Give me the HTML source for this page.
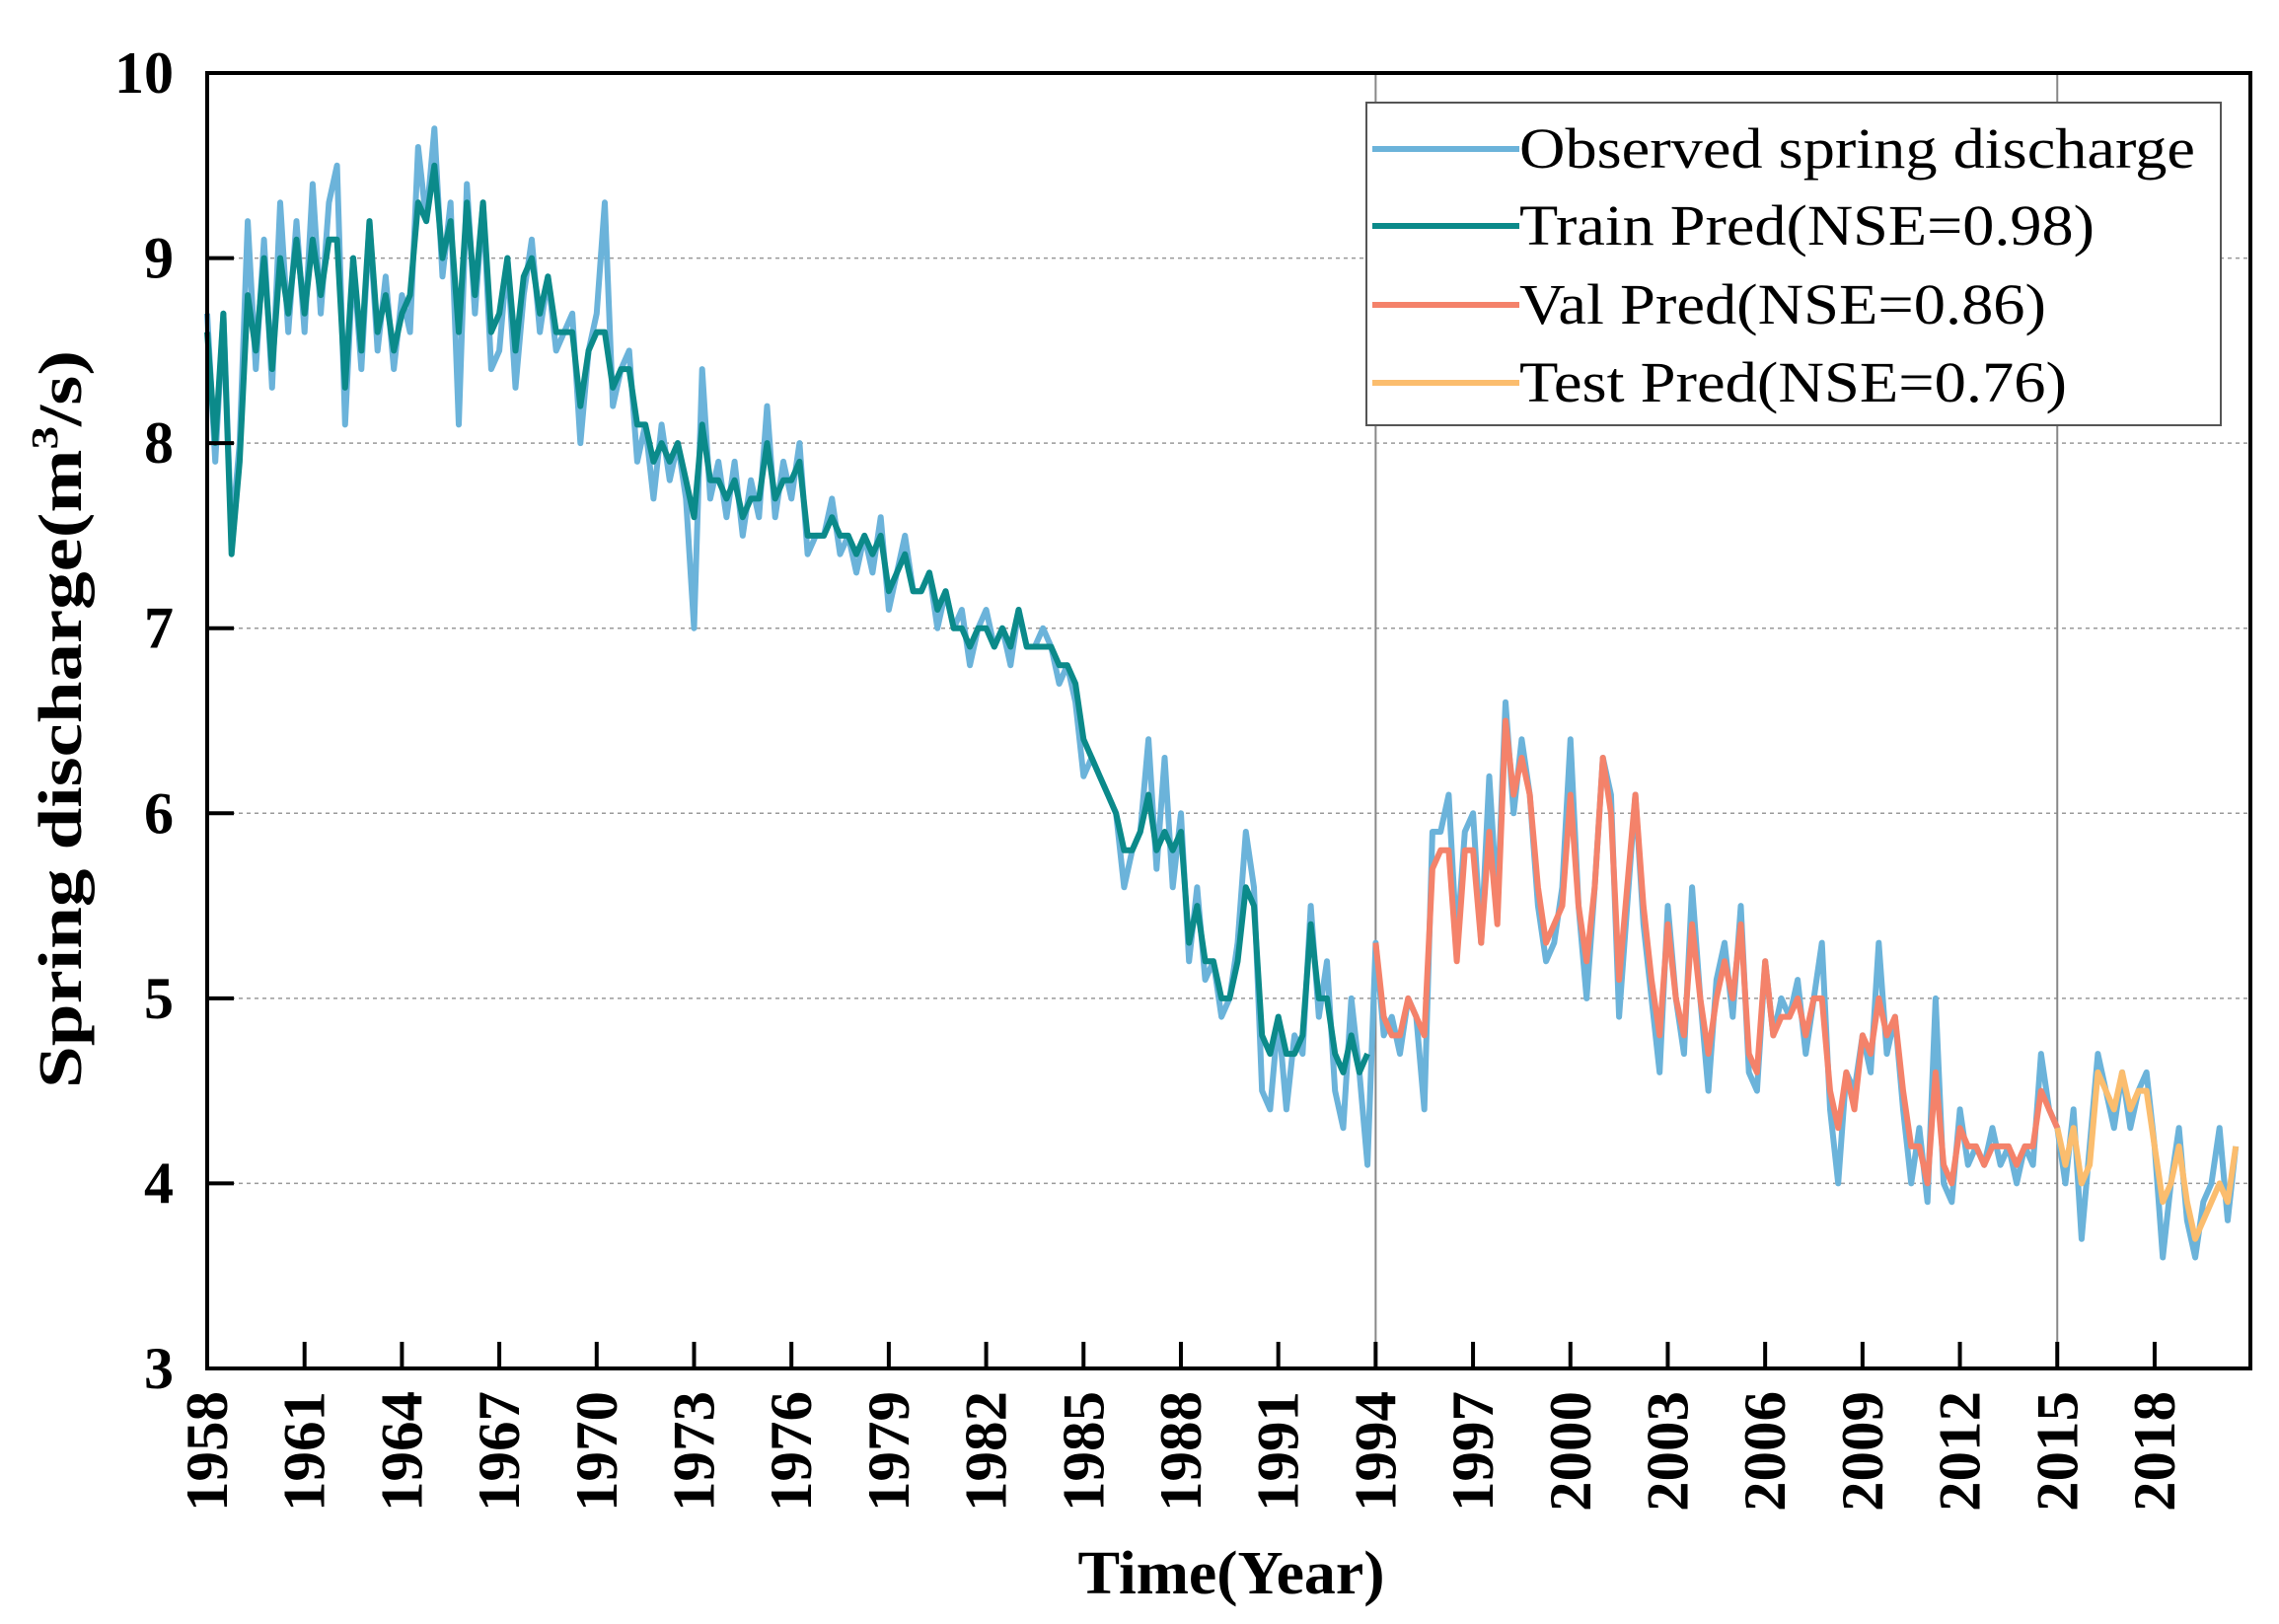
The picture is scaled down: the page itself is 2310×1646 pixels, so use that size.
<!DOCTYPE html>
<html><head><meta charset="utf-8"><style>html,body{margin:0;padding:0;background:#fff}svg{display:block}</style></head>
<body>
<svg id="chart" width="2310" height="1646" viewBox="0 0 2310 1646" xmlns="http://www.w3.org/2000/svg" font-family="'Liberation Serif', serif">
<g id="grid"></g>
<g id="vlines"></g>
<g id="series"></g>
<rect x="210" y="74" width="2071" height="1313" fill="none" stroke="#000" stroke-width="4"/>
<g id="xticks"></g>
<g id="yticks"></g>
<text transform="translate(82,729) rotate(-90)" text-anchor="middle" font-size="62" font-weight="bold" textLength="748" lengthAdjust="spacingAndGlyphs">Spring discharge(m<tspan font-size="38" dy="-24">3</tspan><tspan dy="24">/s)</tspan></text>
<text x="1248" y="1615" text-anchor="middle" font-size="62" font-weight="bold" textLength="311" lengthAdjust="spacingAndGlyphs">Time(Year)</text>
<g>
<rect x="1385" y="104" width="866" height="327" fill="#fff" stroke="#555" stroke-width="2"/>
<line x1="1391" y1="151" x2="1540" y2="151" stroke="#6bb3da" stroke-width="6"/>
<text x="1540" y="170" font-size="58" textLength="685" lengthAdjust="spacingAndGlyphs">Observed spring discharge</text>
<line x1="1391" y1="229" x2="1540" y2="229" stroke="#0b8a8a" stroke-width="6"/>
<text x="1540" y="248" font-size="58" textLength="583" lengthAdjust="spacingAndGlyphs">Train Pred(NSE=0.98)</text>
<line x1="1391" y1="309" x2="1540" y2="309" stroke="#f4826a" stroke-width="6"/>
<text x="1540" y="328" font-size="58" textLength="534" lengthAdjust="spacingAndGlyphs">Val Pred(NSE=0.86)</text>
<line x1="1391" y1="388" x2="1540" y2="388" stroke="#fbbd6e" stroke-width="6"/>
<text x="1540" y="407" font-size="58" textLength="555" lengthAdjust="spacingAndGlyphs">Test Pred(NSE=0.76)</text>
</g>
</svg>
<script>
const startYear = 1958;
const stepsPerYear = 4;
const observed = [
8.7,7.9,8.7,7.5, 8.0,9.2,8.4,9.1, 8.3,9.3,8.6,9.2, 8.6,9.4,8.7,9.3, 9.5,8.1,9.0,8.4,
9.2,8.5,8.9,8.4, 8.8,8.6,9.6,9.2, 9.7,8.9,9.3,8.1, 9.4,8.7,9.3,8.4, 8.5,9.0,8.3,8.8,
9.1,8.6,8.9,8.5, 8.6,8.7,8.0,8.5, 8.7,9.3,8.2,8.4, 8.5,7.9,8.1,7.7, 8.1,7.8,8.0,7.7,
7.0,8.4,7.7,7.9, 7.6,7.9,7.5,7.8, 7.6,8.2,7.6,7.9, 7.7,8.0,7.4,7.5, 7.5,7.7,7.4,7.5,
7.3,7.5,7.3,7.6, 7.1,7.3,7.5,7.2, 7.2,7.3,7.0,7.2, 7.0,7.1,6.8,7.0, 7.1,6.9,7.0,6.8,
7.1,6.9,6.9,7.0, 6.9,6.7,6.8,6.6, 6.2,6.3,6.2,6.1, 6.0,5.6,5.8,5.9, 6.4,5.7,6.3,5.6,
6.0,5.2,5.6,5.1, 5.2,4.9,5.0,5.3, 5.9,5.6,4.5,4.4, 4.9,4.4,4.8,4.7, 5.5,4.9,5.2,4.5,
4.3,5.0,4.6,4.1, 5.3,4.8,4.9,4.7, 5.0,4.9,4.4,5.9, 5.9,6.1,5.3,5.9, 6.0,5.3,6.2,5.5,
6.6,6.0,6.4,6.1, 5.5,5.2,5.3,5.6, 6.4,5.5,5.0,5.6, 6.3,6.1,4.9,5.5, 6.1,5.4,5.0,4.6,
5.5,5.0,4.7,5.6, 5.0,4.5,5.1,5.3, 4.9,5.5,4.6,4.5, 5.2,4.8,5.0,4.9, 5.1,4.7,5.0,5.3,
4.4,4.0,4.6,4.5, 4.8,4.6,5.3,4.7, 4.9,4.4,4.0,4.3, 3.9,5.0,4.0,3.9, 4.4,4.1,4.2,4.1,
4.3,4.1,4.2,4.0, 4.2,4.1,4.7,4.4, 4.3,4.0,4.4,3.7, 4.2,4.7,4.5,4.3, 4.6,4.3,4.5,4.6,
4.2,3.6,4.0,4.3, 3.8,3.6,3.9,4.0, 4.3,3.8,4.2];
const predicted = [
8.6,8.0,8.7,7.4, 7.9,8.8,8.5,9.0, 8.4,9.0,8.7,9.1, 8.7,9.1,8.8,9.1, 9.1,8.3,9.0,8.5,
9.2,8.6,8.8,8.5, 8.7,8.8,9.3,9.2, 9.5,9.0,9.2,8.6, 9.3,8.8,9.3,8.6, 8.7,9.0,8.5,8.9,
9.0,8.7,8.9,8.6, 8.6,8.6,8.2,8.5, 8.6,8.6,8.3,8.4, 8.4,8.1,8.1,7.9, 8.0,7.9,8.0,7.8,
7.6,8.1,7.8,7.8, 7.7,7.8,7.6,7.7, 7.7,8.0,7.7,7.8, 7.8,7.9,7.5,7.5, 7.5,7.6,7.5,7.5,
7.4,7.5,7.4,7.5, 7.2,7.3,7.4,7.2, 7.2,7.3,7.1,7.2, 7.0,7.0,6.9,7.0, 7.0,6.9,7.0,6.9,
7.1,6.9,6.9,6.9, 6.9,6.8,6.8,6.7, 6.4,6.3,6.2,6.1, 6.0,5.8,5.8,5.9, 6.1,5.8,5.9,5.8,
5.9,5.3,5.5,5.2, 5.2,5.0,5.0,5.2, 5.6,5.5,4.8,4.7, 4.9,4.7,4.7,4.8, 5.4,5.0,5.0,4.7,
4.6,4.8,4.6,4.7, 5.3,4.9,4.8,4.8, 5.0,4.9,4.8,5.7, 5.8,5.8,5.2,5.8, 5.8,5.3,5.9,5.4,
6.5,6.1,6.3,6.1, 5.6,5.3,5.4,5.5, 6.1,5.5,5.2,5.6, 6.3,6.0,5.1,5.6, 6.1,5.5,5.1,4.8,
5.4,5.0,4.8,5.4, 5.0,4.7,5.0,5.2, 5.0,5.4,4.7,4.6, 5.2,4.8,4.9,4.9, 5.0,4.8,5.0,5.0,
4.5,4.3,4.6,4.4, 4.8,4.7,5.0,4.8, 4.9,4.5,4.2,4.2, 4.0,4.6,4.1,4.0, 4.3,4.2,4.2,4.1,
4.2,4.2,4.2,4.1, 4.2,4.2,4.5,4.4, 4.3,4.1,4.3,4.0, 4.1,4.6,4.5,4.4, 4.6,4.4,4.5,4.5,
4.2,3.9,4.0,4.2, 3.9,3.7,3.8,3.9, 4.0,3.9,4.2];
const valStartYear = 1994;
const testStartYear = 2015;
const xTickYears = [1958,1961,1964,1967,1970,1973,1976,1979,1982,1985,1988,1991,1994,1997,2000,2003,2006,2009,2012,2015,2018];
const yTickValues = [3,4,5,6,7,8,9,10];

const NS='http://www.w3.org/2000/svg';
const X0=210,X1=2281,Y0=1387,Y1=74;
const xMin=1958,xMax=2020.95,yMin=3,yMax=10;
const xs=v=>X0+(v-xMin)/(xMax-xMin)*(X1-X0);
const ys=v=>Y0-(v-yMin)/(yMax-yMin)*(Y0-Y1);
function mk(tag,attrs,parent){const e=document.createElementNS(NS,tag);for(const k in attrs)e.setAttribute(k,attrs[k]);parent.appendChild(e);return e;}
const grid=document.getElementById('grid'),vl=document.getElementById('vlines'),ser=document.getElementById('series');
const xt=document.getElementById('xticks'),yt=document.getElementById('yticks');

yTickValues.forEach(v=>{
  if(v>yMin&&v<yMax){const g=mk('line',{x1:X0,x2:X1,y1:ys(v),y2:ys(v),stroke:'#999','stroke-width':1.5,'stroke-dasharray':'4,4'},grid);
  
  }
  const tk=mk('line',{x1:X0,x2:X0+27,y1:ys(v),y2:ys(v),stroke:'#000','stroke-width':4},yt);
  
  
  const t=mk('text',{x:176,y:ys(v)+20,'text-anchor':'end','font-size':60,'font-weight':'bold'},yt);
  t.textContent=v;
  
  
});
[valStartYear,testStartYear].forEach(yr=>{
  const l=mk('line',{x1:xs(yr),x2:xs(yr),y1:Y1,y2:Y0,stroke:'#888','stroke-width':2},vl);
  
  
});
xTickYears.forEach(yr=>{
  const x=xs(yr);
  const tk=mk('line',{x1:x,x2:x,y1:Y0,y2:Y0-27,stroke:'#000','stroke-width':4},xt);
  
  
  const t=mk('text',{transform:'translate('+(x+20)+',1410) rotate(-90)','text-anchor':'end','font-size':60,'font-weight':'bold',textLength:122,lengthAdjust:'spacingAndGlyphs'},xt);
  t.textContent=yr;
  
  
});
function path(arr,i0,i1,color,w,name){
  let d='';
  for(let i=i0;i<=i1&&i<arr.length;i++){d+=(i===i0?'M':'L')+xs(startYear+i/stepsPerYear).toFixed(1)+','+ys(arr[i]).toFixed(1);}
  const p=mk('path',{d:d,fill:'none',stroke:color,'stroke-width':w,'stroke-linejoin':'round'},ser);
  
  
}
const vi=(valStartYear-startYear)*stepsPerYear, ti=(testStartYear-startYear)*stepsPerYear;
path(observed,0,observed.length-1,'#6bb3da',6,'observed-line');
path(predicted,0,vi-1,'#0b8a8a',6,'train-pred-line');
path(predicted,vi,ti,'#f4826a',6,'val-pred-line');
path(predicted,ti,predicted.length-1,'#fbbd6e',6,'test-pred-line');
</script>
</body></html>
